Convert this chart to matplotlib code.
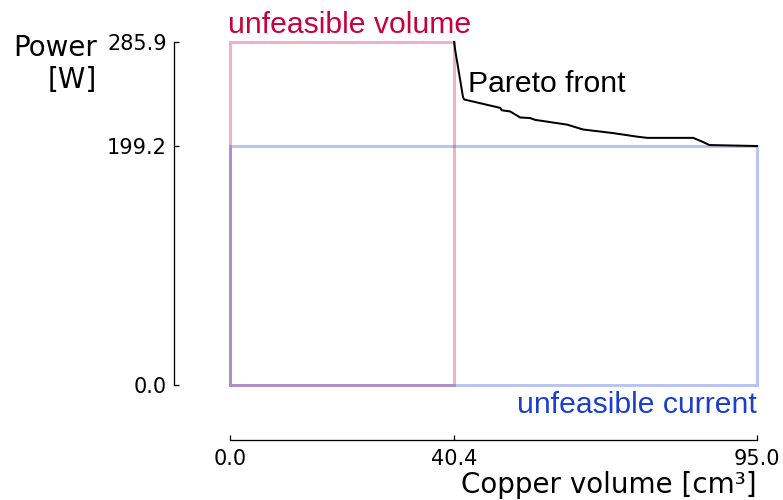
import matplotlib
matplotlib.use("Agg")
import matplotlib.pyplot as plt
from matplotlib.patches import Rectangle

# Pareto front of copper volume vs. power
volume = [40.4, 40.6, 41.5, 42.0, 42.2, 48.7, 49.0, 50.5, 52.3, 54.1, 55.0,
          60.8, 63.6, 69.0, 73.4, 75.2, 83.5, 85.3, 86.4, 95.0]
power = [285.9, 279.0, 254.0, 240.0, 238.0, 231.0, 229.0, 228.0, 223.0, 222.5,
         221.0, 217.0, 213.0, 210.0, 207.0, 206.0, 206.0, 202.5, 200.0, 199.2]

vol_min = 40.4      # minimum feasible copper volume
vol_max = 95.0
power_max = 285.9
power_min = 199.2   # minimum feasible power (current limit)

x_ticks = [0.0, 40.4, 95.0]
y_ticks = [0.0, 199.2, 285.9]

DPI = 100
px = 72 / DPI  # points per pixel

fig = plt.figure(figsize=(7.83, 5.0), dpi=DPI)
ax = fig.add_axes([230 / 783, 1 - 385 / 500, (757 - 230) / 783, (385 - 42) / 500])

ax.set_xlim(0, vol_max)
ax.set_ylim(0, power_max)

pink = "#c8003c"
blue = "#1a3fcc"

ax.add_patch(Rectangle((0, 0), vol_min, power_max, fill=False,
                       edgecolor=pink, alpha=0.3, lw=3 * px, clip_on=False, zorder=2))
ax.add_patch(Rectangle((0, 0), vol_max, power_min, fill=False,
                       edgecolor=blue, alpha=0.3, lw=3 * px, clip_on=False, zorder=2))

ax.plot(volume, power, color="black", lw=2 * px, clip_on=False, zorder=3)

sans = ["Liberation Sans", "DejaVu Sans"]
ax.text(-0.4, 293.3, "unfeasible volume", color=pink, fontsize=21.7,
        family=sans, ha="left", va="baseline")
ax.text(vol_max, -23.3, "unfeasible current", color=blue, fontsize=21.7,
        family=sans, ha="right", va="baseline")
ax.text(42.9, 244.2, "Pareto front", color="black", fontsize=21.7,
        family=sans, ha="left", va="baseline")

for side in ("top", "right"):
    ax.spines[side].set_visible(False)
ax.spines["left"].set_position(("outward", 56 * px))
ax.spines["bottom"].set_position(("outward", 55 * px))
ax.spines["left"].set_linewidth(1.3 * px)
ax.spines["bottom"].set_linewidth(1.3 * px)

ax.set_xticks(x_ticks)
ax.set_xticklabels([f"{v:.1f}" for v in x_ticks])
ax.set_yticks(y_ticks)
ax.set_yticklabels([f"{v:.1f}" for v in y_ticks])
ax.tick_params(direction="in", length=5 * px, width=1.3 * px, labelsize=15)
ax.tick_params(axis="x", pad=6.5)
ax.tick_params(axis="y", pad=5)

ax.set_xlabel("Copper volume [cm³]", fontsize=20, ha="right", va="baseline")
ax.xaxis.set_label_coords(1.0, (385 - 493) / 343)
ax.set_ylabel("Power\n[W]", fontsize=20, rotation=0, ha="right", va="top",
              multialignment="right", linespacing=1.16)
ax.yaxis.set_label_coords((97 - 230) / 527, 1 + (42 - 34) / 343)

fig.savefig("out.png", dpi=DPI)
